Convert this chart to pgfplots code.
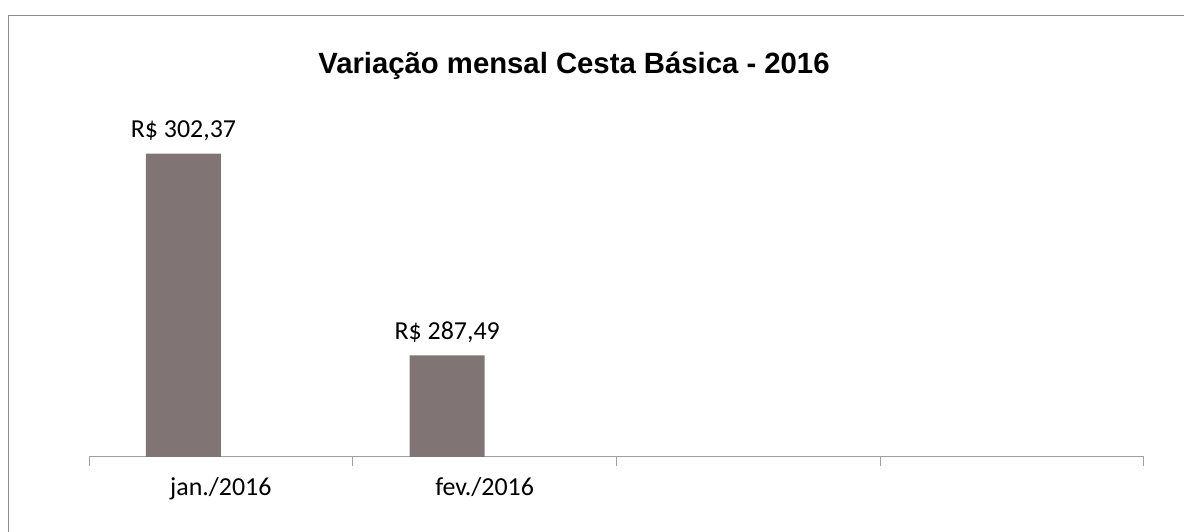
\documentclass[border=0pt]{standalone}
\usepackage{fontspec}
\setmainfont{Carlito}
\newfontfamily\titlefont{Liberation Sans}
\usepackage{pgfplots}
\pgfplotsset{compat=1.18}
\definecolor{barcol}{RGB}{128,117,116}
\definecolor{axgray}{RGB}{160,160,160}
\definecolor{frame}{RGB}{140,140,140}
\begin{document}
\begin{tikzpicture}
\path[use as bounding box] (0,0) rectangle (1184bp,532bp);
\draw[frame, line width=1bp] (8.5bp,0) -- (8.5bp,516.5bp) -- (1184bp,516.5bp);
\begin{axis}[
  at={(89bp,75bp)}, anchor=south west,
  scale only axis, width=1055bp, height=339bp,
  xmin=-0.5, xmax=3.5, ymin=280, ymax=305,
  axis x line*=bottom, axis y line=none,
  x axis line style={-, draw=axgray, line width=1bp},
  xtick={0,1,2,3},
  xticklabels={jan./2016, fev./2016, {}, {}},
  major tick length=0pt,
  extra x ticks={-0.5,0.5,1.5,2.5,3.5},
  extra x tick labels={},
  extra x tick style={major tick length=9bp, tick align=outside, tick style={draw=axgray, line width=1bp}},
  xticklabel style={font=\fontsize{26}{31}\selectfont, yshift=-17bp},
  ybar, bar width=0.284, bar shift=-0.142,
  point meta=explicit symbolic,
  nodes near coords,
  every node near coord/.append style={font=\fontsize{26}{31}\selectfont, anchor=south, yshift=9bp},
  clip=false,
]
\addplot[fill=barcol, draw=none] coordinates {(0,302.37) [R\$ 302,37] (1,287.49) [R\$ 287,49]};
\end{axis}
\node[font=\titlefont\bfseries\fontsize{29.4}{35}\selectfont, anchor=base] at (574bp,458bp) {Variação mensal Cesta Básica - 2016};
\end{tikzpicture}
\end{document}
